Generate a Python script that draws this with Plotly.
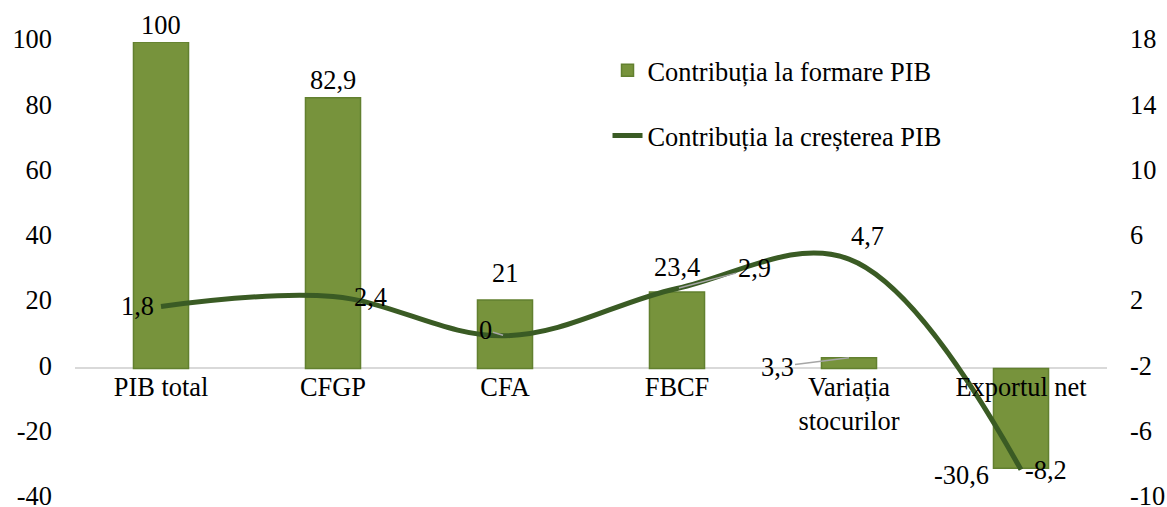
import plotly.graph_objects as go

categories = ["PIB total", "CFGP", "CFA", "FBCF", "Variația<br>stocurilor", "Exportul net"]
formare = [100, 82.9, 21, 23.4, 3.3, -30.6]
crestere = [1.8, 2.4, 0, 2.9, 4.7, -8.2]
left_ticks = [-40, -20, 0, 20, 40, 60, 80, 100]
right_ticks = [-10, -6, -2, 2, 6, 10, 14, 18]

FONT = "Liberation Serif, Times New Roman, serif"
FS = 26.4
BAR_COLOR = "#77933c"
BAR_EDGE = "#62802f"
LINE_COLOR = "#3a5b24"

def fmt(v):
    return ("%g" % v).replace(".", ",")

fig = go.Figure()
fig.add_trace(go.Bar(
    x=categories, y=formare, name="Contribuția la formare PIB",
    marker=dict(color=BAR_COLOR, line=dict(color=BAR_EDGE, width=1.5)),
    width=0.32, yaxis="y", legendgroup="a",
))
fig.add_trace(go.Scatter(
    x=categories, y=crestere, name="Contribuția la creșterea PIB",
    mode="lines", line=dict(color=LINE_COLOR, width=5, shape="spline", smoothing=1.05),
    yaxis="y2", legendgroup="b",
))

ann = []
bar_off = [(0, 17, None), (0, 18, None), (0, 27, None), (0, 25, None), (None, None, (-72, 9)), (-60, -7, None)]
for c, v, (xs, ys, arr) in zip(categories, formare, bar_off):
    a = dict(x=c, y=v, xref="x", yref="y", text=fmt(v), font=dict(family=FONT, size=FS, color="#000"))
    if arr:
        a.update(showarrow=True, ax=arr[0], ay=arr[1], arrowhead=0, arrowwidth=1.5,
                 arrowcolor="#a6a6a6", standoff=0, startstandoff=0)
    else:
        a.update(showarrow=False, xshift=xs, yshift=ys)
    ann.append(a)

line_off = [(-24, 0, None), (37, 0, None), (None, None, (-20, -6)), (None, None, (77, -20)), (18, 23, None), (25, 0, None)]
for c, v, (xs, ys, arr) in zip(categories, crestere, line_off):
    a = dict(x=c, y=v, xref="x", yref="y2", text=fmt(v), font=dict(family=FONT, size=FS, color="#000"))
    if arr:
        a.update(showarrow=True, ax=arr[0], ay=arr[1], arrowhead=0, arrowwidth=1.5,
                 arrowcolor="#a6a6a6", standoff=2, startstandoff=0)
    else:
        a.update(showarrow=False, xshift=xs, yshift=ys)
    ann.append(a)

ymin, ymax = left_ticks[0], left_ticks[-1]
zero_pos = (0 - ymin) / (ymax - ymin)

fig.update_layout(
    width=1167, height=507,
    margin=dict(l=75, r=60, t=42, b=8),
    paper_bgcolor="white", plot_bgcolor="white",
    font=dict(family=FONT, size=FS, color="#000"),
    showlegend=True,
    legend=dict(x=0.516, y=0.99, xanchor="left", yanchor="top", bgcolor="rgba(0,0,0,0)",
                traceorder="grouped", tracegroupgap=28, font=dict(family=FONT, size=FS, color="#000")),
    xaxis=dict(showgrid=False, showline=False, ticks="", anchor="free", position=zero_pos,
               automargin=False, tickfont=dict(family=FONT, size=FS, color="#000")),
    yaxis=dict(range=[ymin, ymax], tickvals=left_ticks, ticktext=[str(t) for t in left_ticks],
               showgrid=False, showline=False,
               zeroline=True, zerolinecolor="#d9d9d9", zerolinewidth=2, ticks="",
               ticklabelstandoff=22, ticklabelshift=-3, ticklabeloverflow="allow", automargin=False,
               tickfont=dict(family=FONT, size=FS, color="#000")),
    yaxis2=dict(range=[right_ticks[0], right_ticks[-1]], tickvals=right_ticks,
                ticktext=[str(t) for t in right_ticks], overlaying="y", side="right",
                showgrid=False, showline=False, zeroline=False, ticks="", ticklabelstandoff=22,
                ticklabelshift=-3, ticklabeloverflow="allow", automargin=False,
                tickfont=dict(family=FONT, size=FS, color="#000")),
    annotations=ann,
)

fig.write_html(
    "out.html",
    config={"displayModeBar": False},
    post_script="document.body.style.margin='0';document.body.style.overflow='hidden';",
)
